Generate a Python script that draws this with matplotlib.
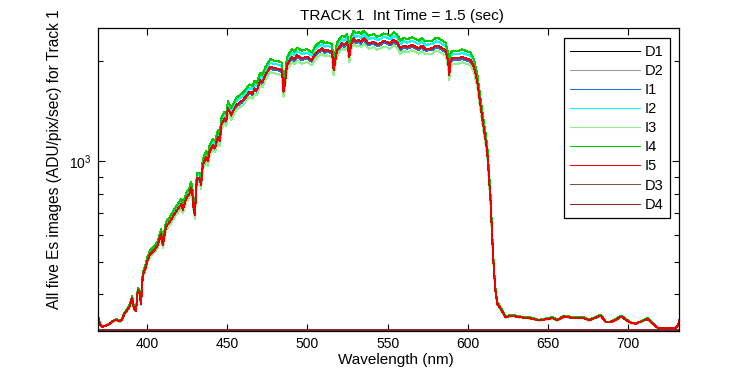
import matplotlib
matplotlib.use("Agg")
import matplotlib.pyplot as plt
from matplotlib.ticker import LogLocator, NullFormatter

plt.rcParams["font.family"] = ["Liberation Sans", "DejaVu Sans"]

# wavelength grid (nm) for the five image spectra
wl = [370.0, 371.0, 372.5, 375.0, 377.0, 379.0, 381.0, 383.0, 384.5, 386.0,
      388.0, 389.5, 390.8, 392.0, 393.3, 394.4, 395.4, 396.4, 397.5, 399.1,
      400.5, 402.0, 404.7, 406.8, 408.9, 410.0, 411.0, 412.0, 415.0, 418.0,
      420.3, 421.5, 422.5, 424.5, 426.6, 427.6, 428.5, 429.1, 429.9, 431.2,
      432.8, 433.8, 434.9, 437.0, 438.0, 439.1, 441.2, 442.5, 444.3, 445.5,
      446.4, 448.4, 449.5, 450.5, 452.6, 455.7, 459.9, 462.0, 464.0, 466.0,
      467.1, 468.6, 470.7, 472.0, 473.8, 476.9, 479.0, 482.0, 484.2, 485.2,
      486.0, 487.3, 490.4, 492.0, 493.6, 496.7, 499.8, 502.9, 504.5, 506.1,
      509.2, 510.8, 512.3, 515.4, 516.4, 517.3, 518.5, 521.6, 523.0, 524.8,
      526.2, 527.2, 528.9, 530.5, 532.0, 533.5, 535.1, 538.2, 541.4, 543.5,
      545.5, 547.5, 549.7, 551.5, 553.8, 556.0, 558.0, 560.0, 562.2, 565.3,
      569.4, 571.5, 573.6, 577.8, 580.0, 581.9, 586.1, 587.8, 588.4, 589.2,
      590.3, 594.4, 596.5, 598.6, 601.7, 603.8, 605.9, 607.3, 609.0, 610.6,
      612.1, 613.1, 614.2, 615.2, 616.3, 617.3, 618.4, 620.4, 623.5, 627.7,
      631.8, 638.1, 644.3, 648.5, 652.7, 655.8, 660.0, 664.1, 671.4, 675.5,
      679.7, 682.8, 685.9, 689.1, 692.2, 695.7, 698.4, 701.5, 704.6, 708.8,
      711.9, 715.0, 718.2, 722.3, 729.5, 731.0, 731.6]

I1 = [336, 322, 318, 321, 325, 331, 334, 330, 334, 347,
      357, 367, 387, 359, 355, 409, 404, 372, 453, 474,
      502, 522, 538, 556, 603, 556, 596, 631, 661, 699,
      724, 739, 709, 767, 794, 828, 783, 724, 684, 881,
      881, 842, 966, 1022, 990, 1058, 1109, 1089, 1174, 1138,
      1271, 1332, 1306, 1428, 1364, 1462, 1513, 1557, 1603, 1582,
      1641, 1621, 1738, 1710, 1799, 1904, 1888, 1878, 1858, 1603,
      1681, 1927, 2040, 2006, 2060, 2019, 2040, 1994, 2065, 2112,
      2162, 2124, 2139, 2112, 1861, 1976, 2134, 2239, 2213, 2262,
      2040, 2223, 2317, 2272, 2292, 2262, 2317, 2239, 2262, 2223,
      2239, 2272, 2262, 2233, 2292, 2252, 2162, 2203, 2183, 2213,
      2162, 2203, 2154, 2162, 2203, 2198, 2134, 1971, 1799, 1976,
      2019, 2019, 2036, 2019, 1994, 1904, 1718, 1531, 1332, 1188,
      1058, 901, 749, 582, 463, 404, 372, 360, 340, 344,
      340, 338, 333, 335, 338, 333, 342, 339, 339, 333,
      339, 344, 329, 329, 334, 342, 334, 327, 325, 331,
      336, 326, 316, 316, 316, 321, 333]

I2 = [337, 322, 318, 321, 326, 332, 335, 331, 335, 349,
      360, 370, 391, 362, 358, 414, 408, 375, 460, 482,
      512, 533, 549, 569, 617, 569, 610, 647, 678, 719,
      745, 760, 729, 790, 818, 853, 807, 745, 702, 909,
      909, 869, 998, 1057, 1024, 1096, 1148, 1128, 1217, 1179,
      1319, 1383, 1355, 1484, 1416, 1519, 1573, 1619, 1667, 1645,
      1707, 1687, 1809, 1780, 1873, 1984, 1966, 1956, 1935, 1667,
      1749, 2007, 2126, 2090, 2147, 2104, 2126, 2078, 2152, 2202,
      2254, 2214, 2230, 2202, 1938, 2059, 2225, 2334, 2308, 2359,
      2126, 2318, 2417, 2370, 2390, 2359, 2417, 2334, 2359, 2318,
      2334, 2370, 2359, 2328, 2390, 2349, 2254, 2297, 2277, 2308,
      2254, 2297, 2245, 2254, 2297, 2292, 2225, 2054, 1873, 2059,
      2104, 2104, 2121, 2104, 2078, 1984, 1788, 1591, 1383, 1231,
      1096, 930, 771, 596, 470, 408, 375, 363, 341, 345,
      341, 339, 334, 336, 339, 334, 343, 340, 340, 334,
      340, 345, 330, 330, 335, 343, 335, 328, 326, 332,
      337, 327, 316, 316, 316, 321, 332]

I3 = [335, 321, 318, 321, 324, 330, 333, 329, 333, 346,
      356, 366, 385, 358, 354, 406, 401, 370, 449, 469,
      497, 516, 531, 550, 595, 550, 588, 622, 651, 688,
      712, 727, 698, 755, 780, 813, 770, 712, 673, 865,
      865, 827, 947, 1002, 971, 1037, 1086, 1067, 1149, 1115,
      1244, 1303, 1278, 1396, 1334, 1429, 1479, 1522, 1566, 1546,
      1603, 1584, 1697, 1670, 1757, 1859, 1843, 1833, 1814, 1566,
      1642, 1881, 1991, 1958, 2010, 1970, 1991, 1946, 2015, 2061,
      2109, 2073, 2087, 2061, 1817, 1929, 2082, 2184, 2159, 2207,
      1991, 2169, 2260, 2216, 2236, 2207, 2260, 2184, 2207, 2169,
      2184, 2216, 2207, 2178, 2236, 2197, 2109, 2149, 2130, 2159,
      2109, 2149, 2101, 2109, 2149, 2145, 2082, 1924, 1757, 1929,
      1970, 1970, 1987, 1970, 1946, 1859, 1678, 1496, 1303, 1163,
      1037, 884, 736, 574, 458, 401, 370, 359, 339, 343,
      339, 337, 332, 334, 337, 332, 341, 338, 338, 332,
      338, 343, 328, 328, 333, 341, 333, 326, 324, 330,
      335, 325, 316, 316, 316, 321, 330]

I4 = [338, 323, 319, 322, 326, 332, 336, 331, 336, 350,
      361, 372, 393, 363, 359, 416, 411, 377, 464, 487,
      517, 539, 556, 576, 626, 576, 619, 657, 689, 730,
      757, 773, 741, 804, 832, 869, 821, 757, 713, 926,
      926, 885, 1018, 1078, 1044, 1118, 1172, 1151, 1242, 1204,
      1347, 1413, 1385, 1517, 1447, 1553, 1608, 1656, 1705, 1683,
      1746, 1725, 1851, 1821, 1917, 2030, 2012, 2002, 1980, 1705,
      1789, 2055, 2177, 2140, 2199, 2154, 2177, 2127, 2204, 2255,
      2308, 2268, 2284, 2255, 1984, 2108, 2278, 2391, 2364, 2417,
      2177, 2374, 2476, 2427, 2449, 2417, 2476, 2391, 2417, 2374,
      2391, 2427, 2417, 2385, 2449, 2406, 2308, 2353, 2332, 2364,
      2308, 2353, 2300, 2308, 2353, 2348, 2278, 2103, 1917, 2108,
      2154, 2154, 2172, 2154, 2127, 2030, 1829, 1627, 1413, 1257,
      1118, 947, 783, 604, 475, 411, 377, 364, 342, 346,
      342, 340, 334, 337, 340, 334, 344, 341, 341, 334,
      341, 346, 330, 330, 336, 344, 336, 328, 326, 332,
      338, 327, 316, 316, 316, 322, 332]

I5 = [336, 322, 318, 321, 325, 331, 334, 330, 334, 348,
      358, 368, 388, 360, 356, 410, 405, 373, 455, 476,
      505, 525, 541, 560, 607, 560, 600, 636, 666, 705,
      730, 745, 715, 774, 801, 835, 790, 730, 689, 889,
      889, 850, 975, 1032, 1000, 1069, 1120, 1100, 1186, 1150,
      1285, 1347, 1320, 1444, 1379, 1478, 1530, 1575, 1621, 1600,
      1660, 1640, 1758, 1730, 1820, 1927, 1910, 1900, 1880, 1621,
      1700, 1950, 2065, 2030, 2085, 2043, 2065, 2018, 2090, 2138,
      2188, 2150, 2165, 2138, 1883, 2000, 2160, 2266, 2240, 2290,
      2065, 2250, 2346, 2300, 2320, 2290, 2346, 2266, 2290, 2250,
      2266, 2300, 2290, 2260, 2320, 2280, 2188, 2230, 2210, 2240,
      2188, 2230, 2180, 2188, 2230, 2225, 2160, 1995, 1820, 2000,
      2043, 2043, 2060, 2043, 2018, 1927, 1738, 1548, 1347, 1200,
      1069, 909, 755, 586, 465, 405, 373, 361, 340, 344,
      340, 338, 333, 335, 338, 333, 342, 339, 339, 333,
      339, 344, 329, 329, 334, 342, 334, 327, 325, 331,
      336, 326, 316, 316, 316, 321, 331]

# dark images, flat just above the bottom of the axis
wl_dark = [370, 400, 430, 460, 490, 520, 550, 580, 610, 640, 670, 700, 731.6]
D1 = [311.0, 311.2, 310.9, 311.1, 311.0, 311.2, 311.1, 310.9, 311.0, 311.2, 311.1, 310.9, 311.0]
D2 = [310.5, 310.6, 310.4, 310.6, 310.5, 310.4, 310.6, 310.5, 310.5, 310.6, 310.4, 310.5, 310.6]
D3 = [312.0, 311.8, 312.1, 311.9, 312.0, 312.2, 311.9, 312.0, 312.1, 311.9, 312.0, 311.8, 312.0]
D4 = [311.6, 311.8, 311.5, 311.7, 311.6, 311.5, 311.8, 311.6, 311.7, 311.5, 311.6, 311.8, 311.6]

series = [("D1", wl_dark, D1, "#000000"),
          ("D2", wl_dark, D2, "#999999"),
          ("I1", wl, I1, "#1f70d6"),
          ("I2", wl, I2, "#00ffff"),
          ("I3", wl, I3, "#90f090"),
          ("I4", wl, I4, "#00cc00"),
          ("I5", wl, I5, "#ee0000"),
          ("D3", wl_dark, D3, "#805050"),
          ("D4", wl_dark, D4, "#802c2c")]

fig = plt.figure(figsize=(7.5, 3.75), dpi=100)
ax = fig.add_axes([0.1311, 0.1173, 0.7743, 0.8072])

for name, x, y, c in series:
    ax.plot(x, y, color=c, lw=0.75, label=name, antialiased=False)

ax.set_yscale("log")
ax.set_xlim(369.8, 731.6)
ax.set_ylim(309, 2515)
ax.set_xticks([400, 450, 500, 550, 600, 650, 700])
ax.yaxis.set_major_locator(LogLocator(base=10))
ax.yaxis.set_minor_locator(LogLocator(base=10, subs=range(2, 10)))
ax.yaxis.set_minor_formatter(NullFormatter())
ax.tick_params(which="both", direction="in", top=True, right=True, labelsize=10)
ax.tick_params(which="major", length=5, width=0.8)
ax.tick_params(which="minor", length=3.5, width=0.8)
ax.tick_params(axis="x", pad=4)
ax.tick_params(axis="y", pad=5)
for s in ax.spines.values():
    s.set_linewidth(0.9)

ax.set_xlabel("Wavelength (nm)", fontsize=11, labelpad=2)
ax.xaxis.label.set_x(0.5127)
fig.text(0.073, 0.176, "All five Es images (ADU/pix/sec) for Track 1",
         rotation=90, ha="center", va="bottom", fontsize=11.2)
fig.text(0.536, 0.9467, "TRACK 1  Int Time = 1.5 (sec)",
         ha="center", va="baseline", fontsize=11)

leg = ax.legend(loc="upper right", bbox_to_anchor=(0.9845, 0.967),
                borderaxespad=0, fontsize=10.5, handlelength=4.8,
                handletextpad=0.3, labelspacing=0.35, borderpad=0.45,
                fancybox=False, framealpha=1)
leg.get_frame().set_edgecolor("black")
leg.get_frame().set_linewidth(0.9)

fig.savefig("out.png", dpi=100)
